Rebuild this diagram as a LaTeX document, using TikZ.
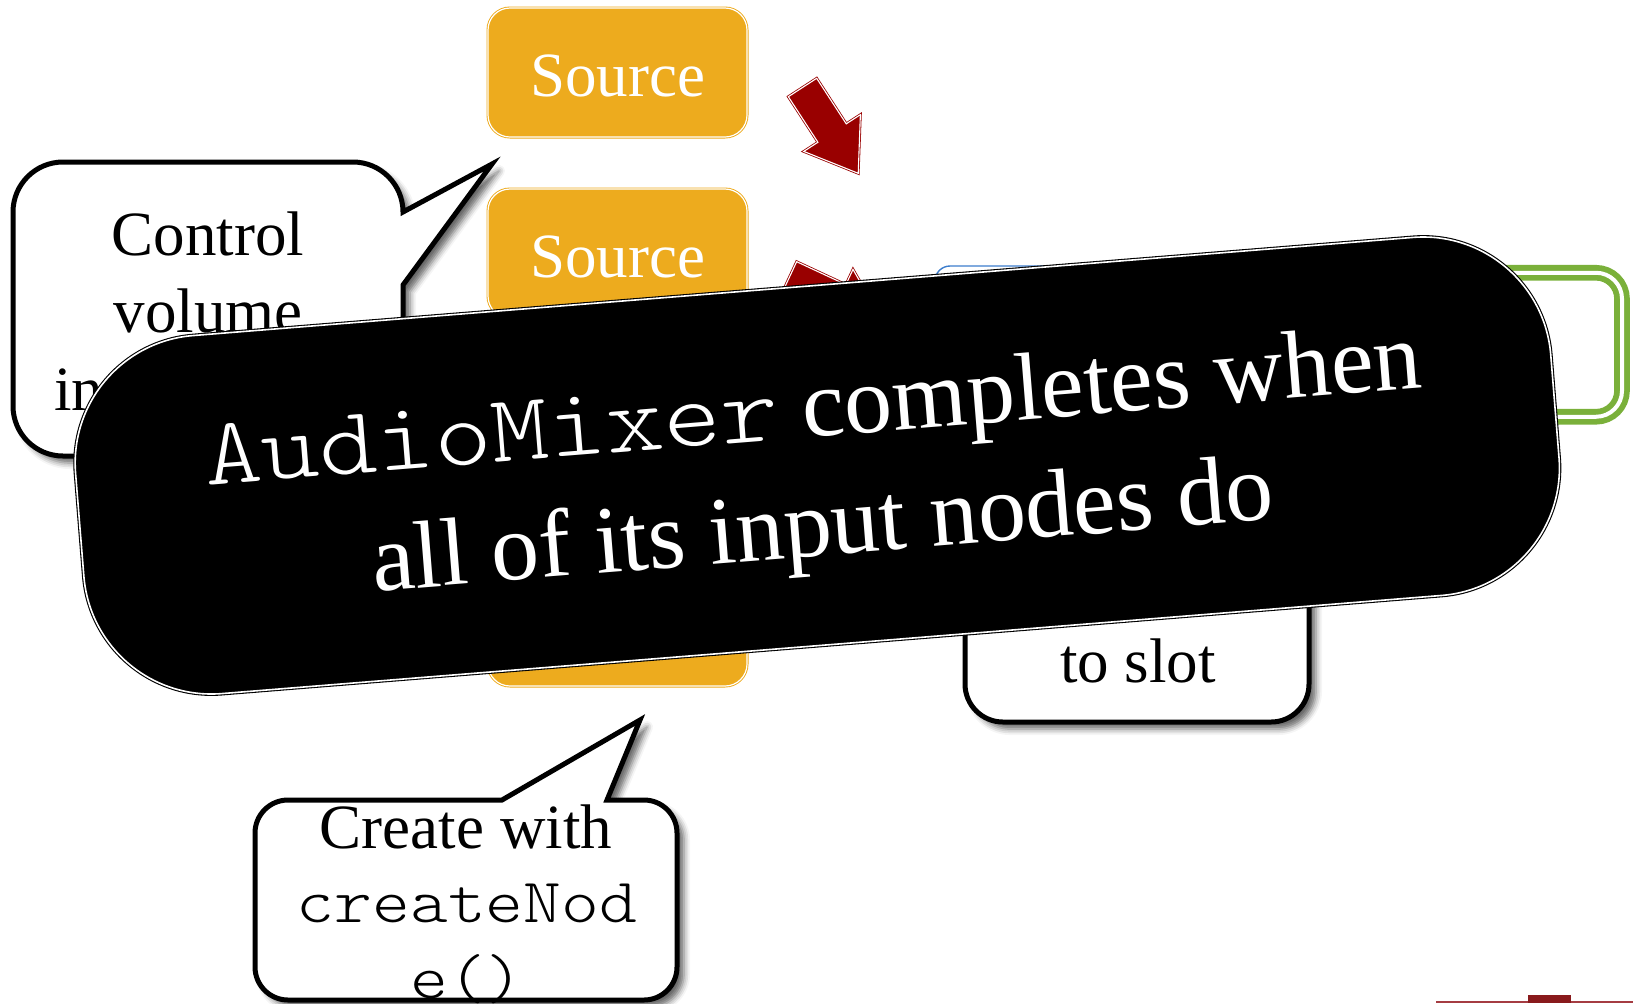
\documentclass[tikz,border=0pt]{standalone}
\usepackage{fontspec}
\setmainfont{Liberation Serif}
\newfontfamily\codefont{lmmonolt10-regular.otf}[FakeStretch=1.143]
\usetikzlibrary{shadows.blur}

\definecolor{srcgold}{RGB}{237,171,30}
\definecolor{arrowred}{RGB}{153,0,0}
\definecolor{mixgreen}{RGB}{122,176,58}
\definecolor{mixblue}{RGB}{60,125,205}
\definecolor{barred}{RGB}{137,26,28}
\definecolor{rulered}{RGB}{165,60,66}

\tikzset{
  srcbox/.style={rectangle, rounded corners=11pt, minimum width=129.5pt,
    minimum height=64.5pt, inner sep=0pt, fill=srcgold, draw=srcgold,
    line width=0.45pt, double=white, double distance=0.6pt, text=white,
    font=\fontsize{31.5}{38}\selectfont, text height=24pt, text depth=0pt},
  blockarrow/.style={fill=arrowred, draw=arrowred, line width=0.4pt,
    double=white, double distance=0.55pt, line join=miter},
  bubble/.style={fill=white, draw=black, line width=2.5pt, line join=miter,
    blur shadow={shadow xshift=3.5pt, shadow yshift=-3.5pt,
      shadow blur radius=3pt, shadow opacity=60}},
  bubbletext/.style={anchor=base, inner sep=0pt,
    font=\fontsize{31.5}{38}\selectfont},
  banner/.style={rectangle, rotate=4.6, minimum width=740pt,
    minimum height=179.6pt, rounded corners=64pt, inner sep=0pt,
    fill=black, draw=black, line width=0.55pt, double=white,
    double distance=0.8pt},
  bannertext/.style={anchor=base, inner sep=0pt, text=white, rotate=4.6,
    font=\fontsize{48}{59.5}\selectfont},
  mixerbox/.style={rectangle, rounded corners=7.5pt, minimum width=125pt,
    minimum height=82pt, inner sep=0pt, fill=white, draw=mixblue,
    line width=0.7pt},
  destbox/.style={rectangle, rounded corners=13pt, minimum width=191pt,
    minimum height=72pt, inner sep=0pt, draw=mixgreen, line width=2.9pt,
    double=white, double distance=2pt},
}

\begin{document}
\begin{tikzpicture}[x=0.5pt, y=-0.5pt]
\useasboundingbox (0,0) rectangle (1633,1003);

% speech bubble on the left
\draw[bubble] (63,162) -- (353,162)
  .. controls (380.6,162) and (403,184.4) .. (403,212)
  -- (492,164) -- (403,285) -- (403,406)
  .. controls (403,433.6) and (380.6,456) .. (353,456)
  -- (63,456)
  .. controls (35.4,456) and (13,433.6) .. (13,406)
  -- (13,212)
  .. controls (13,184.4) and (35.4,162) .. (63,162) -- cycle;
\node[bubbletext] (vol1) at (208,255) {Control};
\node[bubbletext] (vol2) at (208,332) {volume};
\node[bubbletext, anchor=base west] (vol3) at (54,410) {in};

% audio sources
\node[srcbox] (src1) at (617.5,72.5) {Source};
\node[srcbox] (src2) at (617.5,253.5) {Source};
\node[srcbox] (src4) at (617.5,621.5) {Source};

% block arrows from the sources towards the mixer
\begin{scope}[shift={(802.5,87.5)}, rotate=-57]
  \draw[blockarrow] (0,-16.9) -- (54.3,-16.9) -- (54.3,-33.75) -- (102.3,0)
    -- (54.3,33.75) -- (54.3,16.9) -- (0,16.9) -- cycle;
\end{scope}
\begin{scope}[shift={(789.5,277)}, rotate=-25]
  \draw[blockarrow] (0,-16.9) -- (54.3,-16.9) -- (54.3,-33.75) -- (102.3,0)
    -- (54.3,33.75) -- (54.3,16.9) -- (0,16.9) -- cycle;
\end{scope}

% mixer and destination
\node[mixerbox] (mixer) at (1060,348) {};
\node[destbox] (dest) at (1431,344.75) {};

% "to slot" bubble
\draw[bubble, rounded corners=19pt] (965,490) rectangle (1309,722);
\node[bubbletext] (slot) at (1138,682) {to slot};

% speech bubble at the bottom
\draw[bubble] (288,800) -- (502,800) -- (640,720) -- (607,800) -- (644,800)
  .. controls (662.2,800) and (677,814.8) .. (677,833)
  -- (677,967)
  .. controls (677,985.2) and (662.2,1000) .. (644,1000)
  -- (288,1000)
  .. controls (269.8,1000) and (255,985.2) .. (255,967)
  -- (255,833)
  .. controls (255,814.8) and (269.8,800) .. (288,800) -- cycle;
\node[bubbletext] (make1) at (466,848) {Create with};
\node[bubbletext] (make2) at (467,922) {\codefont createNod};
\node[bubbletext] (make3) at (467,998) {\codefont e()};

% banner across the diagram
\node[banner] (note) at (817.3,465.5) {};
\node[bannertext] (note1) at (815.0,436.6) {{\codefont AudioMixer} completes when};
\node[bannertext] (note2) at (824.5,555.2) {all of its input nodes do};

% footer rule
\draw[rulered, line width=1.2pt] (1436,1002) -- (1633,1002);
\fill[barred] (1528.3,995) rectangle (1570.7,1003);
\end{tikzpicture}
\end{document}
